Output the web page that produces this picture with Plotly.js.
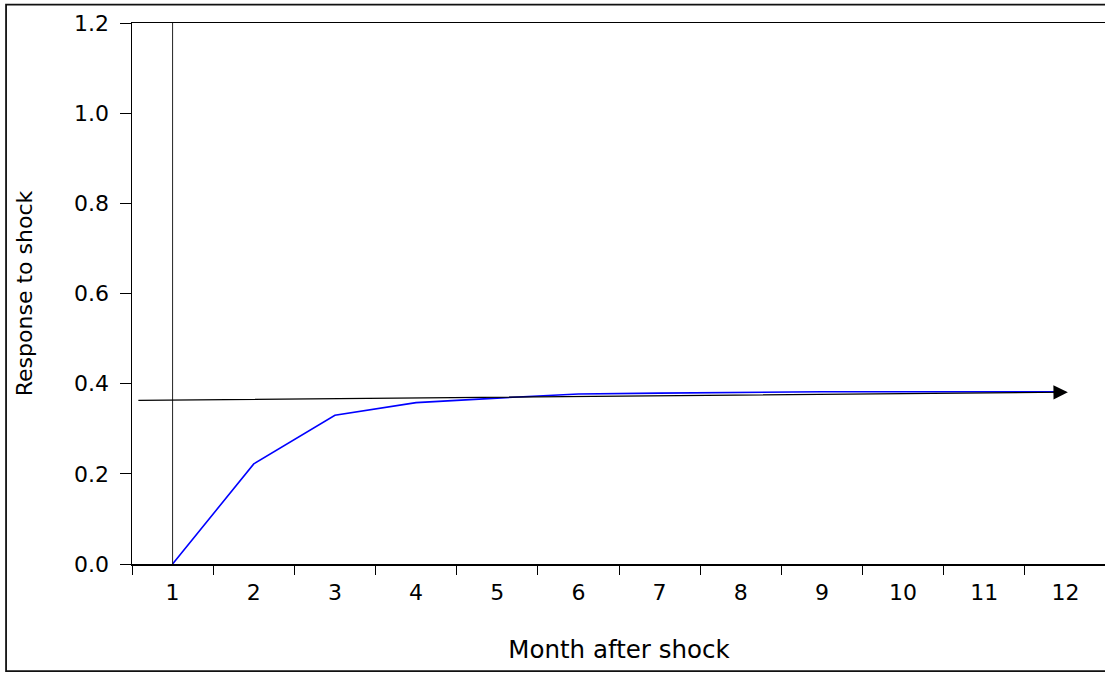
<!DOCTYPE html>
<html>
<head>
<meta charset="utf-8">
<script src="https://cdn.plot.ly/plotly-3.0.1.min.js"></script>
<style>
html,body{margin:0;padding:0;overflow:hidden;background:#fff;}
#chart{width:1106px;height:673px;}
</style>
</head>
<body>
<div id="chart"></div>
<script>
// Data
const months = [1,2,3,4,5,6,7,8,9,10,11,12];
const response = [0.000,0.222,0.330,0.358,0.368,0.377,0.379,0.381,0.382,0.382,0.382,0.382];
const monthLabels = ['1','2','3','4','5','6','7','8','9','10','11','12'];
const boundaries = [0.5,1.5,2.5,3.5,4.5,5.5,6.5,7.5,8.5,9.5,10.5,11.5,12.5];
const yTicks = [0,0.2,0.4,0.6,0.8,1.0,1.2];
const yTickLabels = ['0.0','0.2','0.4','0.6','0.8','1.0','1.2'];
const arrowStart = {x:0.56, y:0.363};
const arrowEnd = {x:12.03, y:0.381};
const shockMonth = 1;

const font = 'DejaVu Sans, Liberation Sans, Arial, sans-serif';

const traces = [
  {x: months, y: response, type:'scatter', mode:'lines',
   line:{color:'#0000ff', width:1.6}, hoverinfo:'skip', showlegend:false},
  {x: boundaries, y: boundaries.map(()=>null), xaxis:'x2', type:'scatter', mode:'lines',
   showlegend:false, hoverinfo:'skip'}
];

const layout = {
  width:1106, height:673,
  margin:{l:132, r:0, t:23, b:109},
  paper_bgcolor:'#fff', plot_bgcolor:'#fff',
  font:{family:font, size:22, color:'#000'},
  showlegend:false,
  xaxis:{
    range:[0.5,12.5], tickvals:months, ticktext:monthLabels, ticks:'',
    showgrid:false, zeroline:false, showline:true, linecolor:'#000', linewidth:1.5,
    mirror:true, tickfont:{family:font, size:22}, ticklabelstandoff:8,
    title:{text:'Month after shock', font:{family:font, size:24.5}, standoff:37}
  },
  xaxis2:{
    overlaying:'x', range:[0.5,12.5], tickvals:boundaries, ticks:'outside', ticklen:10,
    tickcolor:'#000', tickwidth:1, showticklabels:false, showgrid:false, zeroline:false,
    showline:false, side:'bottom', anchor:'y'
  },
  yaxis:{
    range:[0,1.2], tickvals:yTicks, ticktext:yTickLabels, ticks:'outside', ticklen:11,
    tickcolor:'#000', tickwidth:1, showgrid:false, zeroline:false, showline:true,
    linecolor:'#000', linewidth:1.5, mirror:true, tickfont:{family:font, size:22},
    ticklabelstandoff:6,
    title:{text:'Response to shock', font:{family:font, size:22}, standoff:35}
  },
  shapes:[
    {type:'line', xref:'x', yref:'y', x0:shockMonth, x1:shockMonth, y0:0, y1:1.2,
     line:{color:'#222', width:1}},
    {type:'rect', xref:'paper', yref:'paper', x0:-0.1293, x1:1.05, y0:-0.198, y1:1.034,
     line:{color:'#111', width:1.8}, fillcolor:'rgba(0,0,0,0)', layer:'above'}
  ],
  annotations:[
    {x:arrowEnd.x, y:arrowEnd.y, ax:arrowStart.x, ay:arrowStart.y, xref:'x', yref:'y',
     axref:'x', ayref:'y', text:'', showarrow:true, arrowhead:2, arrowsize:2.4,
     arrowwidth:1.2, arrowcolor:'#000'}
  ]
};

Plotly.newPlot('chart', traces, layout, {displayModeBar:false, staticPlot:true});
</script>
</body>
</html>
